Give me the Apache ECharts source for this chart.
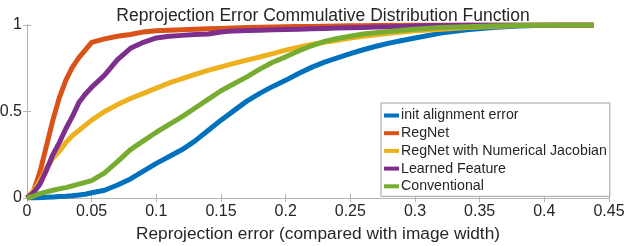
<!DOCTYPE html>
<html>
<head>
<meta charset="utf-8">
<script src="https://cdn.jsdelivr.net/npm/echarts@6/dist/echarts.min.js"></script>
<style>
html,body{margin:0;padding:0;background:#fff;}
#c{width:628px;height:246px;}
</style>
</head>
<body>
<div id="c"></div>
<script>
const titleText = 'Reprojection Error Commulative Distribution Function';
const xName = 'Reprojection error (compared with image width)';
const seriesNames = ['init alignment error', 'RegNet', 'RegNet with Numerical Jacobian', 'Learned Feature', 'Conventional'];
const seriesColors = ['#0072BD', '#D95319', '#EDB120', '#7E2F8E', '#77AC30'];

const errX = [0, 0.005, 0.01, 0.015, 0.02, 0.025, 0.03, 0.035, 0.04, 0.045, 0.05,
  0.06, 0.07, 0.08, 0.09, 0.1, 0.11, 0.12, 0.13, 0.14, 0.15, 0.16, 0.17, 0.18, 0.19, 0.2,
  0.21, 0.22, 0.23, 0.24, 0.25, 0.26, 0.27, 0.28, 0.29, 0.3, 0.32, 0.34, 0.36, 0.38, 0.4, 0.42, 0.438];

const initAlign = [0, 0, 0.002, 0.004, 0.006, 0.008, 0.01, 0.013, 0.017, 0.022, 0.03,
  0.045, 0.075, 0.11, 0.155, 0.2, 0.24, 0.28, 0.33, 0.39, 0.45, 0.505, 0.56, 0.605, 0.645, 0.68,
  0.72, 0.755, 0.785, 0.81, 0.835, 0.857, 0.877, 0.895, 0.91, 0.925, 0.953, 0.972, 0.986, 0.994, 0.998, 1, 1];

const regNet = [0, 0.04, 0.15, 0.30, 0.45, 0.58, 0.68, 0.755, 0.81, 0.855, 0.90,
  0.92, 0.935, 0.945, 0.96, 0.967, 0.97, 0.973, 0.976, 0.978, 0.98, 0.983, 0.985, 0.987, 0.988, 0.99,
  0.991, 0.992, 0.993, 0.994, 0.995, 0.996, 0.997, 0.998, 0.999, 1, 1, 1, 1, 1, 1, 1, 1];

const regNetNumJac = [0, 0.04, 0.10, 0.17, 0.23, 0.27, 0.32, 0.36, 0.39, 0.42, 0.45,
  0.50, 0.54, 0.575, 0.605, 0.635, 0.665, 0.69, 0.715, 0.738, 0.758, 0.778, 0.797, 0.815, 0.835, 0.855,
  0.872, 0.888, 0.90, 0.912, 0.924, 0.935, 0.944, 0.952, 0.96, 0.966, 0.976, 0.985, 0.992, 0.997, 1, 1, 1];

const learnedFeat = [0, 0.03, 0.08, 0.16, 0.25, 0.32, 0.40, 0.47, 0.55, 0.60, 0.64,
  0.71, 0.80, 0.865, 0.90, 0.925, 0.935, 0.94, 0.945, 0.948, 0.96, 0.966, 0.968, 0.97, 0.972, 0.974,
  0.976, 0.978, 0.98, 0.982, 0.984, 0.986, 0.988, 0.99, 0.992, 0.994, 0.997, 1, 1, 1, 1, 1, 1];

const conventional = [0, 0.01, 0.025, 0.035, 0.045, 0.053, 0.06, 0.07, 0.08, 0.09, 0.10,
  0.145, 0.21, 0.28, 0.33, 0.38, 0.425, 0.47, 0.52, 0.57, 0.62, 0.66, 0.70, 0.745, 0.785, 0.816,
  0.85, 0.88, 0.905, 0.922, 0.935, 0.948, 0.956, 0.963, 0.97, 0.976, 0.985, 0.99, 0.994, 0.997, 0.999, 1, 1];

const xTicks = [0, 0.05, 0.1, 0.15, 0.2, 0.25, 0.3, 0.35, 0.4, 0.45];
const yTicks = [0, 0.5, 1];

const allY = [initAlign, regNet, regNetNumJac, learnedFeat, conventional];

const axisCol = '#b4b4b4';
const txtCol = '#262626';
const font = 'Liberation Sans, Arial, sans-serif';

const chart = echarts.init(document.getElementById('c'), null, {renderer: 'canvas'});
const fmt = v => String(+(+v).toFixed(2));

const option = {
  backgroundColor: '#fff',
  animation: false,
  title: {
    text: titleText, left: 318, textAlign: 'center', top: 2,
    textStyle: {fontFamily: font, fontSize: 17.5, fontWeight: 'normal', color: txtCol}
  },
  grid: {left: 27, right: 19, top: 25, bottom: 48, containLabel: false, outerBoundsMode: 'none'},
  legend: {
    orient: 'vertical', left: 381, top: 103,
    data: seriesNames, icon: 'rect', itemWidth: 15, itemHeight: 4, itemGap: 3.7,
    padding: [5.5, 3, 3, 3],
    borderColor: '#a0a0a0', borderWidth: 1, backgroundColor: '#fff',
    textStyle: {fontFamily: font, fontSize: 14.2, color: txtCol, lineHeight: 14, padding: [0,0,0,-3]}
  },
  xAxis: [{
    type: 'value', min: 0, max: 0.45, interval: 0.05,
    name: xName, nameLocation: 'middle', nameGap: 28,
    nameTextStyle: {fontFamily: font, fontSize: 17.3, color: txtCol},
    axisLine: {show: true, onZero: false, lineStyle: {color: axisCol}},
    axisTick: {show: true, inside: true, length: 4, lineStyle: {color: axisCol}},
    axisLabel: {fontFamily: font, fontSize: 16, color: txtCol, margin: 6, formatter: fmt, customValues: xTicks},
    splitLine: {show: false}
  }, {
    type: 'value', min: 0, max: 0.45, interval: 0.05, position: 'top',
    axisLine: {show: true, lineStyle: {color: axisCol}},
    axisTick: {show: true, inside: true, length: 4, lineStyle: {color: axisCol}},
    axisLabel: {show: false}, splitLine: {show: false}
  }],
  yAxis: [{
    type: 'value', min: 0, max: 1, interval: 0.5,
    axisLine: {show: true, onZero: false, lineStyle: {color: axisCol}},
    axisTick: {show: true, inside: true, length: 4, lineStyle: {color: axisCol}},
    axisLabel: {fontFamily: font, fontSize: 16, color: txtCol, margin: 5, formatter: fmt},
    splitLine: {show: false}
  }, {
    type: 'value', min: 0, max: 1, interval: 0.5, position: 'right',
    axisLine: {show: true, lineStyle: {color: axisCol}},
    axisTick: {show: true, inside: true, length: 4, lineStyle: {color: axisCol}},
    axisLabel: {show: false}, splitLine: {show: false}
  }],
  series: seriesNames.map((n, i) => ({
    name: n, type: 'line', showSymbol: false, symbol: 'none',
    data: errX.map((x, k) => [x, allY[i][k]]),
    lineStyle: {width: 5, color: seriesColors[i], cap: 'butt', join: 'round'},
    itemStyle: {color: seriesColors[i]},
    z: 2 + i
  }))
};
chart.setOption(option);
</script>
</body>
</html>
